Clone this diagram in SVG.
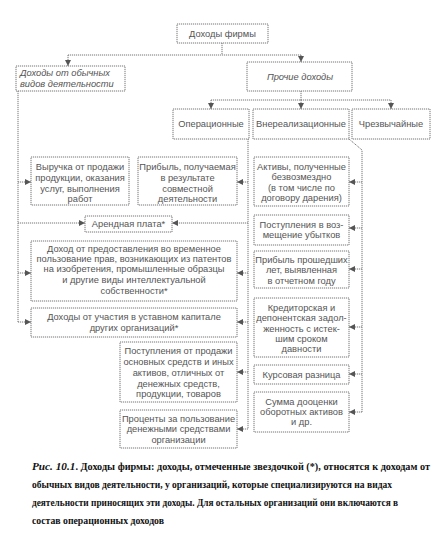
<svg xmlns="http://www.w3.org/2000/svg" width="446" height="538" viewBox="0 0 446 538">
<defs>
<marker id="ah" viewBox="0 0 6 6" refX="6" refY="3" markerWidth="6" markerHeight="6" markerUnits="userSpaceOnUse" orient="auto">
<path d="M0,0 L6,3 L0,6 z" fill="#555"/>
</marker>
<style>
.box{fill:#fff;stroke:#777;stroke-width:1;stroke-dasharray:1.2 0.8}
.ln{fill:none;stroke:#777;stroke-width:1;stroke-dasharray:1.2 0.8}
.ar{fill:none;stroke:#777;stroke-width:1;stroke-dasharray:1.2 0.8;marker-end:url(#ah)}
text{font-family:"Liberation Sans",Arial,sans-serif;font-size:9.3px;fill:#555;text-anchor:middle}
.it{font-style:italic}
.l{text-anchor:start}
.cap{font-family:"Liberation Serif","Times New Roman",serif;font-size:10px;font-weight:bold;fill:#111;text-anchor:start}
</style>
</defs>
<rect width="446" height="538" fill="#fff"/>
<g id="connectors">
<path class="ln" d="M222,43 V55 M68,55 H301 M301,91 V100 M211,100 H391"/>
<path class="ar" d="M68,55 V66"/>
<path class="ar" d="M301,55 V62"/>
<path class="ar" d="M211,100 V109"/>
<path class="ar" d="M301,100 V109"/>
<path class="ar" d="M391,100 V109"/>
<path class="ln" d="M18,91 V322"/>
<path class="ar" d="M18,182 H31"/>
<path class="ar" d="M18,223 H85"/>
<path class="ar" d="M18,273 H31"/>
<path class="ar" d="M18,322 H31"/>
<path class="ln" d="M248,139 V429"/>
<path class="ar" d="M248,182 H237"/>
<path class="ar" d="M248,223 H172"/>
<path class="ar" d="M248,273 H237"/>
<path class="ar" d="M248,322 H237"/>
<path class="ar" d="M248,372 H237"/>
<path class="ar" d="M248,429 H237"/>
<path class="ln" d="M349,139 L362,150 V412"/>
<path class="ar" d="M362,182 H349"/>
<path class="ar" d="M362,228 H349"/>
<path class="ar" d="M362,269 H349"/>
<path class="ar" d="M362,327 H349"/>
<path class="ar" d="M362,374 H349"/>
<path class="ar" d="M362,412 H349"/>
</g>
<g id="n-firm"><rect class="box" x="177" y="24" width="91" height="19"/><text x="222.5" y="37">Доходы фирмы</text></g>
<g id="n-ordinary"><rect class="box" x="16" y="66" width="109" height="25"/><text class="it l" x="20" y="76">Доходы от обычных</text><text class="it l" x="20" y="87">видов деятельности</text></g>
<g id="n-other"><rect class="box" x="247" y="62" width="105" height="29"/><text class="it" x="300" y="80">Прочие доходы</text></g>
<g id="n-oper"><rect class="box" x="173" y="109" width="76" height="30"/><text x="211" y="127">Операционные</text></g>
<g id="n-nonop"><rect class="box" x="253" y="109" width="96" height="30"/><text x="301" y="127">Внереализационные</text></g>
<g id="n-extra"><rect class="box" x="352" y="109" width="78" height="30"/><text x="391" y="127">Чрезвычайные</text></g>
<g id="n-revenue"><rect class="box" x="31" y="157" width="98" height="48"/><text x="80" y="170">Выручка от продажи</text><text x="80" y="181">продукции, оказания</text><text x="80" y="192">услуг, выполнения</text><text x="80" y="202">работ</text></g>
<g id="n-joint"><rect class="box" x="138" y="157" width="99" height="48"/><text x="187.5" y="170">Прибыль, получаемая</text><text x="187.5" y="181">в результате</text><text x="187.5" y="192">совместной</text><text x="187.5" y="202">деятельности</text></g>
<g id="n-assets"><rect class="box" x="254" y="157" width="95" height="49"/><text x="301.5" y="170">Активы, полученные</text><text x="301.5" y="180">безвозмездно</text><text x="301.5" y="191">(в том числе по</text><text x="301.5" y="201">договору дарения)</text></g>
<g id="n-rent"><rect class="box" x="85" y="216" width="87" height="16"/><text x="128.5" y="227">Арендная плата*</text></g>
<g id="n-damages"><rect class="box" x="254" y="215" width="95" height="30"/><text x="301.5" y="228">Поступления в воз-</text><text x="301.5" y="238">мещение убытков</text></g>
<g id="n-ip"><rect class="box" x="31" y="241" width="206" height="60"/><text x="134" y="252">Доход от предоставления во временное</text><text x="134" y="262">пользование прав, возникающих из патентов</text><text x="134" y="272">на изобретения, промышленные образцы</text><text x="134" y="283">и другие виды интеллектуальной</text><text x="134" y="294">собственности*</text></g>
<g id="n-prevyears"><rect class="box" x="254" y="251" width="95" height="37"/><text x="301.5" y="263">Прибыль прошедших</text><text x="301.5" y="273">лет, выявленная</text><text x="301.5" y="284">в отчетном году</text></g>
<g id="n-capital"><rect class="box" x="31" y="308" width="206" height="29"/><text x="134" y="320">Доходы от участия в уставном капитале</text><text x="134" y="331">других организаций*</text></g>
<g id="n-payables"><rect class="box" x="254" y="298" width="95" height="59"/><text x="301.5" y="311">Кредиторская и</text><text x="301.5" y="321">депонентская задол-</text><text x="301.5" y="332">женность с истек-</text><text x="301.5" y="342">шим сроком</text><text x="301.5" y="352">давности</text></g>
<g id="n-sales"><rect class="box" x="120" y="342" width="117" height="60"/><text x="178.5" y="354">Поступления от продажи</text><text x="178.5" y="365">основных средств и иных</text><text x="178.5" y="376">активов, отличных от</text><text x="178.5" y="387">денежных средств,</text><text x="178.5" y="397">продукции, товаров</text></g>
<g id="n-fx"><rect class="box" x="254" y="365" width="95" height="19"/><text x="301.5" y="378">Курсовая разница</text></g>
<g id="n-reval"><rect class="box" x="254" y="392" width="95" height="40"/><text x="301.5" y="405">Сумма дооценки</text><text x="301.5" y="415">оборотных активов</text><text x="301.5" y="425">и др.</text></g>
<g id="n-interest"><rect class="box" x="120" y="410" width="117" height="38"/><text x="178.5" y="422">Проценты за пользование</text><text x="178.5" y="432">денежными средствами</text><text x="178.5" y="443">организации</text></g>
<g id="caption">
<text class="cap" x="32" y="470" textLength="398" lengthAdjust="spacingAndGlyphs"><tspan font-style="italic" font-size="11px">Рис. 10.1</tspan>. Доходы фирмы: доходы, отмеченные звездочкой (*), относятся к доходам от</text>
<text class="cap" x="32" y="488" textLength="360" lengthAdjust="spacingAndGlyphs">обычных видов деятельности, у организаций, которые специализируются на видах</text>
<text class="cap" x="32" y="506" textLength="366" lengthAdjust="spacingAndGlyphs">деятельности приносящих эти доходы. Для остальных организаций они включаются в</text>
<text class="cap" x="32" y="524" textLength="132" lengthAdjust="spacingAndGlyphs">состав операционных доходов</text>
</g>
</svg>
